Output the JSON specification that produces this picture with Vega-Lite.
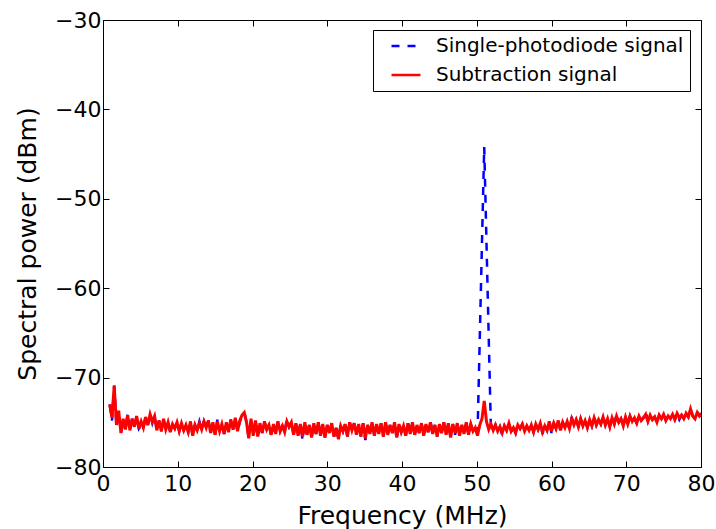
{
  "$schema": "https://vega.github.io/schema/vega-lite/v6.json",
  "width": 598,
  "height": 447,
  "autosize": "none",
  "padding": {"left": 103, "top": 20, "right": 15, "bottom": 62},
  "background": "white",
  "config": {
    "font": "DejaVu Sans",
    "view": {"stroke": "black", "strokeWidth": 1},
    "axis": {"grid": false, "domain": false, "tickColor": "black", "tickSize": -6, "tickWidth": 1, "labelColor": "black", "titleColor": "black", "labelFont": "DejaVu Sans", "titleFont": "DejaVu Sans", "labelFontSize": 22, "titleFontSize": 25, "titleFontWeight": "normal", "labelFlush": false, "labelOverlap": false},
    "legend": {"orient": "none", "legendX": 270, "legendY": 10, "strokeColor": "black", "fillColor": "white", "padding": 6, "cornerRadius": 0, "labelFont": "DejaVu Sans", "labelFontSize": 20, "labelColor": "black", "symbolType": "M-2,0L2,0", "symbolSize": 210, "symbolStrokeWidth": 2.5, "symbolOffset": 17, "labelOffset": 20, "rowPadding": 9, "labelLimit": 400}
  },
  "data": {"values": [
{"f":0.9,"s":-73.0,"d":-73.0},{"f":1.2,"s":-74.8,"d":-74.5},{"f":1.5,"s":-70.9,"d":-70.9},{"f":1.8,"s":-75.3,"d":-75.3},{"f":2.1,"s":-73.7,"d":-73.7},{"f":2.4,"s":-76.2,"d":-76.2},{"f":2.7,"s":-74.6,"d":-74.6},{"f":3.0,"s":-75.8,"d":-75.8},{"f":3.3,"s":-74.0,"d":-74.2},{"f":3.6,"s":-75.9,"d":-75.9},
{"f":3.9,"s":-74.6,"d":-74.6},{"f":4.2,"s":-75.5,"d":-75.5},{"f":4.5,"s":-74.3,"d":-74.3},{"f":4.8,"s":-75.7,"d":-75.7},{"f":5.1,"s":-75.3,"d":-74.9},{"f":5.4,"s":-75.6,"d":-75.6},{"f":5.7,"s":-74.4,"d":-74.4},{"f":6.0,"s":-75.3,"d":-75.3},{"f":6.3,"s":-74.1,"d":-74.1},{"f":6.6,"s":-75.1,"d":-74.9},
{"f":6.9,"s":-74.3,"d":-74.3},{"f":7.2,"s":-75.9,"d":-75.9},{"f":7.5,"s":-74.8,"d":-74.8},{"f":7.8,"s":-76.0,"d":-76.0},{"f":8.1,"s":-74.6,"d":-74.6},{"f":8.4,"s":-75.8,"d":-75.8},{"f":8.7,"s":-75.0,"d":-75.0},{"f":9.0,"s":-76.1,"d":-76.1},{"f":9.3,"s":-75.4,"d":-75.2},{"f":9.6,"s":-75.7,"d":-75.7},
{"f":9.9,"s":-75.0,"d":-75.0},{"f":10.2,"s":-76.0,"d":-76.0},{"f":10.5,"s":-75.1,"d":-75.1},{"f":10.8,"s":-75.9,"d":-75.9},{"f":11.1,"s":-75.3,"d":-75.3},{"f":11.4,"s":-76.1,"d":-76.1},{"f":11.7,"s":-74.9,"d":-74.9},{"f":12.0,"s":-76.5,"d":-76.5},{"f":12.3,"s":-75.3,"d":-75.3},{"f":12.6,"s":-75.9,"d":-75.9},
{"f":12.9,"s":-74.9,"d":-75.1},{"f":13.2,"s":-75.8,"d":-75.8},{"f":13.5,"s":-74.9,"d":-74.9},{"f":13.8,"s":-75.6,"d":-75.6},{"f":14.1,"s":-74.8,"d":-74.8},{"f":14.4,"s":-76.2,"d":-76.2},{"f":14.7,"s":-75.0,"d":-75.0},{"f":15.0,"s":-76.4,"d":-76.4},{"f":15.3,"s":-74.7,"d":-74.9},{"f":15.6,"s":-76.0,"d":-76.0},
{"f":15.9,"s":-75.2,"d":-75.2},{"f":16.2,"s":-76.3,"d":-76.3},{"f":16.5,"s":-75.0,"d":-75.0},{"f":16.8,"s":-76.1,"d":-76.1},{"f":17.1,"s":-74.7,"d":-74.7},{"f":17.4,"s":-75.8,"d":-75.8},{"f":17.7,"s":-74.5,"d":-74.5},{"f":18.0,"s":-76.0,"d":-76.0},{"f":18.3,"s":-75.0,"d":-74.8},{"f":18.6,"s":-74.2,"d":-74.2},
{"f":18.9,"s":-73.9,"d":-73.9},{"f":19.2,"s":-75.0,"d":-75.0},{"f":19.5,"s":-76.8,"d":-76.8},{"f":19.8,"s":-74.6,"d":-74.6},{"f":20.1,"s":-76.5,"d":-76.5},{"f":20.4,"s":-74.8,"d":-74.8},{"f":20.7,"s":-76.6,"d":-76.6},{"f":21.0,"s":-75.3,"d":-75.1},{"f":21.3,"s":-76.2,"d":-76.2},{"f":21.6,"s":-74.9,"d":-74.9},
{"f":21.9,"s":-75.8,"d":-75.8},{"f":22.2,"s":-75.3,"d":-75.3},{"f":22.5,"s":-76.4,"d":-76.4},{"f":22.8,"s":-75.2,"d":-75.2},{"f":23.1,"s":-76.3,"d":-76.3},{"f":23.4,"s":-74.9,"d":-74.9},{"f":23.7,"s":-76.0,"d":-76.0},{"f":24.0,"s":-75.4,"d":-75.4},{"f":24.3,"s":-76.1,"d":-76.1},{"f":24.6,"s":-74.6,"d":-74.9},
{"f":24.9,"s":-75.5,"d":-75.5},{"f":25.2,"s":-75.0,"d":-75.0},{"f":25.5,"s":-76.4,"d":-76.4},{"f":25.8,"s":-75.1,"d":-75.1},{"f":26.1,"s":-76.5,"d":-76.5},{"f":26.4,"s":-75.2,"d":-75.2},{"f":26.7,"s":-77.0,"d":-76.6},{"f":27.0,"s":-75.0,"d":-75.0},{"f":27.3,"s":-76.4,"d":-76.4},{"f":27.6,"s":-75.3,"d":-75.3},
{"f":27.9,"s":-76.7,"d":-76.7},{"f":28.2,"s":-75.3,"d":-75.1},{"f":28.5,"s":-76.3,"d":-76.3},{"f":28.8,"s":-75.0,"d":-75.0},{"f":29.1,"s":-76.5,"d":-76.5},{"f":29.4,"s":-75.2,"d":-75.2},{"f":29.7,"s":-76.7,"d":-76.7},{"f":30.0,"s":-75.3,"d":-75.3},{"f":30.3,"s":-76.2,"d":-76.2},{"f":30.6,"s":-75.1,"d":-75.1},
{"f":30.9,"s":-76.6,"d":-76.6},{"f":31.2,"s":-75.6,"d":-75.6},{"f":31.5,"s":-76.9,"d":-76.9},{"f":31.8,"s":-75.2,"d":-75.4},{"f":32.1,"s":-76.0,"d":-76.0},{"f":32.4,"s":-75.2,"d":-75.2},{"f":32.7,"s":-76.6,"d":-76.6},{"f":33.0,"s":-75.0,"d":-75.0},{"f":33.3,"s":-75.9,"d":-75.9},{"f":33.6,"s":-75.1,"d":-75.1},
{"f":33.9,"s":-76.4,"d":-76.4},{"f":34.2,"s":-75.2,"d":-75.2},{"f":34.5,"s":-76.6,"d":-76.6},{"f":34.8,"s":-75.1,"d":-75.1},{"f":35.1,"s":-77.0,"d":-76.8},{"f":35.4,"s":-75.3,"d":-75.3},{"f":35.7,"s":-76.3,"d":-76.3},{"f":36.0,"s":-75.0,"d":-75.0},{"f":36.3,"s":-76.5,"d":-76.5},{"f":36.6,"s":-75.4,"d":-75.2},
{"f":36.9,"s":-76.3,"d":-76.3},{"f":37.2,"s":-75.1,"d":-75.1},{"f":37.5,"s":-76.6,"d":-76.6},{"f":37.8,"s":-75.0,"d":-75.0},{"f":38.1,"s":-76.4,"d":-76.4},{"f":38.4,"s":-75.3,"d":-75.3},{"f":38.7,"s":-76.2,"d":-76.2},{"f":39.0,"s":-75.0,"d":-75.0},{"f":39.3,"s":-76.9,"d":-76.7},{"f":39.6,"s":-75.2,"d":-75.2},
{"f":39.9,"s":-76.1,"d":-76.1},{"f":40.2,"s":-75.4,"d":-75.4},{"f":40.5,"s":-76.5,"d":-76.5},{"f":40.8,"s":-75.1,"d":-75.1},{"f":41.1,"s":-76.3,"d":-76.3},{"f":41.4,"s":-75.0,"d":-75.0},{"f":41.7,"s":-76.4,"d":-76.4},{"f":42.0,"s":-75.3,"d":-75.3},{"f":42.3,"s":-76.2,"d":-76.2},{"f":42.6,"s":-75.1,"d":-75.1},
{"f":42.9,"s":-76.5,"d":-76.5},{"f":43.2,"s":-75.2,"d":-75.2},{"f":43.5,"s":-76.1,"d":-76.1},{"f":43.8,"s":-74.8,"d":-75.0},{"f":44.1,"s":-76.3,"d":-76.3},{"f":44.4,"s":-75.3,"d":-75.3},{"f":44.7,"s":-76.6,"d":-76.6},{"f":45.0,"s":-75.2,"d":-75.2},{"f":45.3,"s":-76.2,"d":-76.2},{"f":45.6,"s":-75.0,"d":-75.0},
{"f":45.9,"s":-76.4,"d":-76.4},{"f":46.2,"s":-75.1,"d":-75.1},{"f":46.5,"s":-76.7,"d":-76.7},{"f":46.8,"s":-75.2,"d":-75.2},{"f":47.1,"s":-76.4,"d":-76.2},{"f":47.4,"s":-75.1,"d":-75.1},{"f":47.7,"s":-76.5,"d":-76.5},{"f":48.0,"s":-75.3,"d":-75.3},{"f":48.3,"s":-76.3,"d":-76.3},{"f":48.6,"s":-75.0,"d":-75.0},
{"f":48.9,"s":-76.4,"d":-76.4},{"f":49.2,"s":-75.2,"d":-75.2},{"f":49.5,"s":-76.0,"d":-76.0},{"f":49.8,"s":-76.2,"d":-75.6},{"f":50.1,"s":-76.5,"d":-76.5},{"f":50.4,"s":-65.7,"d":-75.3},{"f":50.7,"s":-54.9,"d":-74.6},{"f":51.0,"s":-44.2,"d":-72.6},{"f":51.3,"s":-54.8,"d":-74.9},{"f":51.6,"s":-65.4,"d":-75.8},
{"f":51.9,"s":-76.0,"d":-75.2},{"f":52.2,"s":-75.9,"d":-75.9},{"f":52.5,"s":-75.3,"d":-75.3},{"f":52.8,"s":-76.0,"d":-76.0},{"f":53.1,"s":-75.5,"d":-75.5},{"f":53.4,"s":-76.4,"d":-76.2},{"f":53.7,"s":-75.4,"d":-75.4},{"f":54.0,"s":-75.9,"d":-75.9},{"f":54.3,"s":-75.1,"d":-75.1},{"f":54.6,"s":-76.0,"d":-76.0},
{"f":54.9,"s":-75.6,"d":-75.6},{"f":55.2,"s":-76.2,"d":-76.2},{"f":55.5,"s":-75.1,"d":-75.3},{"f":55.8,"s":-75.7,"d":-75.7},{"f":56.1,"s":-75.2,"d":-75.2},{"f":56.4,"s":-76.0,"d":-76.0},{"f":56.7,"s":-75.4,"d":-75.4},{"f":57.0,"s":-75.9,"d":-75.9},{"f":57.3,"s":-75.3,"d":-75.3},{"f":57.6,"s":-76.1,"d":-76.1},
{"f":57.9,"s":-75.2,"d":-75.2},{"f":58.2,"s":-75.8,"d":-75.8},{"f":58.5,"s":-75.1,"d":-75.1},{"f":58.8,"s":-76.3,"d":-76.1},{"f":59.1,"s":-75.4,"d":-75.4},{"f":59.4,"s":-75.9,"d":-75.9},{"f":59.7,"s":-74.9,"d":-74.9},{"f":60.0,"s":-76.2,"d":-76.0},{"f":60.3,"s":-75.1,"d":-75.1},{"f":60.6,"s":-75.7,"d":-75.7},
{"f":60.9,"s":-74.8,"d":-74.8},{"f":61.2,"s":-75.9,"d":-75.9},{"f":61.5,"s":-75.0,"d":-75.0},{"f":61.8,"s":-75.6,"d":-75.6},{"f":62.1,"s":-74.9,"d":-74.9},{"f":62.4,"s":-75.7,"d":-75.7},{"f":62.7,"s":-74.4,"d":-74.6},{"f":63.0,"s":-75.3,"d":-75.3},{"f":63.3,"s":-74.7,"d":-74.7},{"f":63.6,"s":-75.5,"d":-75.5},
{"f":63.9,"s":-74.6,"d":-74.6},{"f":64.2,"s":-75.4,"d":-75.4},{"f":64.5,"s":-74.8,"d":-74.8},{"f":64.8,"s":-75.6,"d":-75.6},{"f":65.1,"s":-74.7,"d":-74.7},{"f":65.4,"s":-75.4,"d":-75.4},{"f":65.7,"s":-74.3,"d":-74.5},{"f":66.0,"s":-75.3,"d":-75.3},{"f":66.3,"s":-74.7,"d":-74.7},{"f":66.6,"s":-75.2,"d":-75.2},
{"f":66.9,"s":-74.4,"d":-74.4},{"f":67.2,"s":-75.3,"d":-75.3},{"f":67.5,"s":-74.6,"d":-74.6},{"f":67.8,"s":-75.5,"d":-75.5},{"f":68.1,"s":-74.5,"d":-74.5},{"f":68.4,"s":-75.2,"d":-75.2},{"f":68.7,"s":-74.1,"d":-74.3},{"f":69.0,"s":-75.0,"d":-75.0},{"f":69.3,"s":-74.6,"d":-74.6},{"f":69.6,"s":-75.4,"d":-75.4},
{"f":69.9,"s":-74.4,"d":-74.4},{"f":70.2,"s":-75.2,"d":-75.2},{"f":70.5,"s":-74.3,"d":-74.3},{"f":70.8,"s":-74.9,"d":-74.9},{"f":71.1,"s":-74.6,"d":-74.5},{"f":71.4,"s":-75.1,"d":-75.1},{"f":71.7,"s":-74.3,"d":-74.3},{"f":72.0,"s":-74.8,"d":-74.8},{"f":72.3,"s":-74.5,"d":-74.5},{"f":72.6,"s":-73.8,"d":-74.1},
{"f":72.9,"s":-74.9,"d":-74.9},{"f":73.2,"s":-74.2,"d":-74.2},{"f":73.5,"s":-74.7,"d":-74.7},{"f":73.8,"s":-74.4,"d":-74.4},{"f":74.1,"s":-75.0,"d":-75.0},{"f":74.4,"s":-74.2,"d":-74.2},{"f":74.7,"s":-74.6,"d":-74.6},{"f":75.0,"s":-74.1,"d":-74.1},{"f":75.3,"s":-74.8,"d":-74.8},{"f":75.6,"s":-74.3,"d":-74.3},
{"f":75.9,"s":-74.4,"d":-74.6},{"f":76.2,"s":-74.1,"d":-74.1},{"f":76.5,"s":-74.7,"d":-74.7},{"f":76.8,"s":-74.0,"d":-74.0},{"f":77.1,"s":-74.7,"d":-74.5},{"f":77.4,"s":-74.2,"d":-74.2},{"f":77.7,"s":-74.6,"d":-74.6},{"f":78.0,"s":-74.0,"d":-74.0},{"f":78.3,"s":-74.4,"d":-74.4},{"f":78.6,"s":-73.5,"d":-73.5},
{"f":78.9,"s":-74.3,"d":-74.3},{"f":79.2,"s":-74.6,"d":-74.6},{"f":79.5,"s":-73.8,"d":-73.9},{"f":79.8,"s":-74.3,"d":-74.3},{"f":80.1,"s":-74.0,"d":-74.0}
  ]},
  "layer": [
    {
      "transform": [{"fold": ["s"], "as": ["series", "p"]}],
      "mark": {"type": "line", "strokeWidth": 2.5, "clip": true},
      "encoding": {
        "x": {"field": "f", "type": "quantitative", "scale": {"domain": [0, 80], "nice": false}, "axis": {"orient": "bottom", "values": [0,10,20,30,40,50,60,70,80], "title": "Frequency (MHz)", "labelPadding": 12, "titlePadding": 9}},
        "y": {"field": "p", "type": "quantitative", "scale": {"domain": [-80, -30], "nice": false}, "axis": {"orient": "left", "values": [-80,-70,-60,-50,-40,-30], "title": "Spectral power (dBm)", "labelPadding": 8, "titlePadding": 14}},
        "color": {"field": "series", "type": "nominal", "scale": {"domain": ["s", "d"], "range": ["#0000ff", "#ff0000"]}, "legend": {"title": null, "labelExpr": "datum.label == 's' ? 'Single-photodiode signal' : 'Subtraction signal'"}},
        "strokeDash": {"field": "series", "type": "nominal", "scale": {"domain": ["s", "d"], "range": [[8, 8], [1, 0]]}, "legend": {"title": null, "labelExpr": "datum.label == 's' ? 'Single-photodiode signal' : 'Subtraction signal'"}}
      }
    },
    {
      "transform": [{"fold": ["d"], "as": ["series", "p"]}],
      "mark": {"type": "line", "strokeWidth": 3, "clip": true},
      "encoding": {
        "x": {"field": "f", "type": "quantitative", "axis": null},
        "y": {"field": "p", "type": "quantitative", "axis": null},
        "color": {"field": "series", "type": "nominal"},
        "strokeDash": {"field": "series", "type": "nominal"}
      }
    },
    {
      "mark": {"type": "line", "opacity": 0},
      "encoding": {
        "x": {"field": "f", "type": "quantitative", "axis": {"orient": "top", "values": [0,10,20,30,40,50,60,70,80], "labels": false, "title": null}},
        "y": {"field": "s", "type": "quantitative", "axis": {"orient": "right", "values": [-80,-70,-60,-50,-40,-30], "labels": false, "title": null}}
      }
    }
  ],
  "resolve": {"axis": {"x": "independent", "y": "independent"}}
}
